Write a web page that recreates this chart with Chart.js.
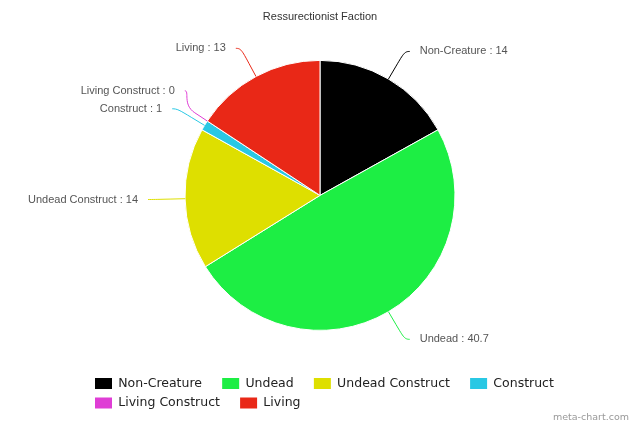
<!DOCTYPE html>
<html>
<head>
<meta charset="utf-8">
<script src="https://cdn.jsdelivr.net/npm/chart.js@4.4.1/dist/chart.umd.min.js"></script>
<style>
  html, body { margin: 0; padding: 0; background: #fff; }
  #wrap { width: 640px; height: 427px; }
</style>
</head>
<body>
<div id="wrap"><canvas id="chart"></canvas></div>
<script>
// --- data ---
const categories = ['Non-Creature', 'Undead', 'Undead Construct', 'Construct', 'Living Construct', 'Living'];
const values = [14, 40.7, 14, 1, 0, 13];
const colors = ['#000000', '#1dee44', '#dedf00', '#29c8e4', '#df3dd5', '#e92817'];
const chartTitle = 'Ressurectionist Faction';
const credit = 'meta-chart.com';

// labels outside the pie with soft connectors
const outsideLabels = {
    id: 'outsideLabels',
    afterDatasetsDraw(chart) {
        const ctx = chart.ctx;
        const arcs = chart.getDatasetMeta(0).data;
        const EXTRA = 32, GAP = 15, MIN_SPACE = 18;

        const items = arcs.map((arc, i) => {
            const p = arc.getProps(['x', 'y', 'startAngle', 'endAngle', 'outerRadius'], true);
            const mid = (p.startAngle + p.endAngle) / 2;
            const R = p.outerRadius + EXTRA;
            return { i, p, mid, R, right: Math.cos(mid) >= 0, y: p.y + Math.sin(mid) * R };
        });

        // push overlapping labels apart, per side
        const left = items.filter(d => !d.right).sort((a, b) => b.y - a.y);
        for (let k = 1; k < left.length; k++) left[k].y = Math.min(left[k].y, left[k - 1].y - MIN_SPACE);
        const right = items.filter(d => d.right).sort((a, b) => a.y - b.y);
        for (let k = 1; k < right.length; k++) right[k].y = Math.max(right[k].y, right[k - 1].y + MIN_SPACE);

        ctx.save();
        ctx.font = '11px "Liberation Sans", Arial, sans-serif';
        ctx.textBaseline = 'middle';
        items.forEach(d => {
            const { x: cx, y: cy, outerRadius: r } = d.p;
            const dy = Math.max(-d.R, Math.min(d.R, d.y - cy));
            const dir = d.right ? 1 : -1;
            const ax = cx + dir * Math.sqrt(d.R * d.R - dy * dy);
            const cos = Math.cos(d.mid), sin = Math.sin(d.mid);
            const ex = cx + cos * r, ey = cy + sin * r;
            const bx = cx + cos * (r + 15), by = cy + sin * (r + 15);

            ctx.strokeStyle = colors[d.i];
            ctx.lineWidth = 1;
            ctx.beginPath();
            ctx.moveTo(ax + dir * 5, d.y);
            ctx.bezierCurveTo(ax, d.y, 2 * bx - ex, 2 * by - ey, bx, by);
            ctx.lineTo(ex, ey);
            ctx.stroke();

            ctx.fillStyle = '#555';
            ctx.textAlign = d.right ? 'left' : 'right';
            ctx.fillText(categories[d.i] + ' : ' + values[d.i], ax + dir * GAP, d.y);
        });
        ctx.restore();
    },
    afterDraw(chart) {
        const ctx = chart.ctx;
        ctx.save();
        ctx.font = '9.5px "DejaVu Sans", sans-serif';
        ctx.fillStyle = '#999';
        ctx.textAlign = 'right';
        ctx.textBaseline = 'middle';
        ctx.fillText(credit, chart.width - 11, chart.height - 9);
        ctx.restore();
    }
};

// legend rows start under the left part of the pie, like the original
const legendOffset = {
    id: 'legendOffset',
    afterLayout(chart) {
        if (chart.legend) chart.legend.left = 88;
    }
};

new Chart(document.getElementById('chart'), {
    type: 'pie',
    data: {
        labels: categories,
        datasets: [{
            data: values,
            backgroundColor: colors,
            borderColor: '#ffffff',
            borderWidth: 1,
            radius: 135,
            hoverOffset: 0
        }]
    },
    options: {
        responsive: true,
        maintainAspectRatio: false,
        animation: false,
        layout: { padding: { bottom: 7.75 } },
        plugins: {
            title: {
                display: true,
                text: chartTitle,
                color: '#333',
                font: { family: '"Liberation Sans", Arial, sans-serif', size: 11, weight: 'normal', lineHeight: 1 },
                padding: { top: 11, bottom: -1.5 }
            },
            legend: {
                position: 'bottom',
                align: 'start',
                labels: {
                    font: { family: '"DejaVu Sans", sans-serif', size: 12.5 },
                    color: '#222',
                    boxWidth: 17,
                    boxHeight: 11,
                    padding: 7,
                    // trailing spaces widen the gap between items without spreading the rows
                    generateLabels: chart => categories.map((c, i) => ({
                        text: c + '   \u200A',
                        fillStyle: colors[i],
                        strokeStyle: colors[i],
                        lineWidth: 0,
                        fontColor: '#222',
                        hidden: !chart.getDataVisibility(i),
                        index: i
                    }))
                }
            },
            tooltip: { enabled: false }
        }
    },
    plugins: [outsideLabels, legendOffset]
});
</script>
</body>
</html>
